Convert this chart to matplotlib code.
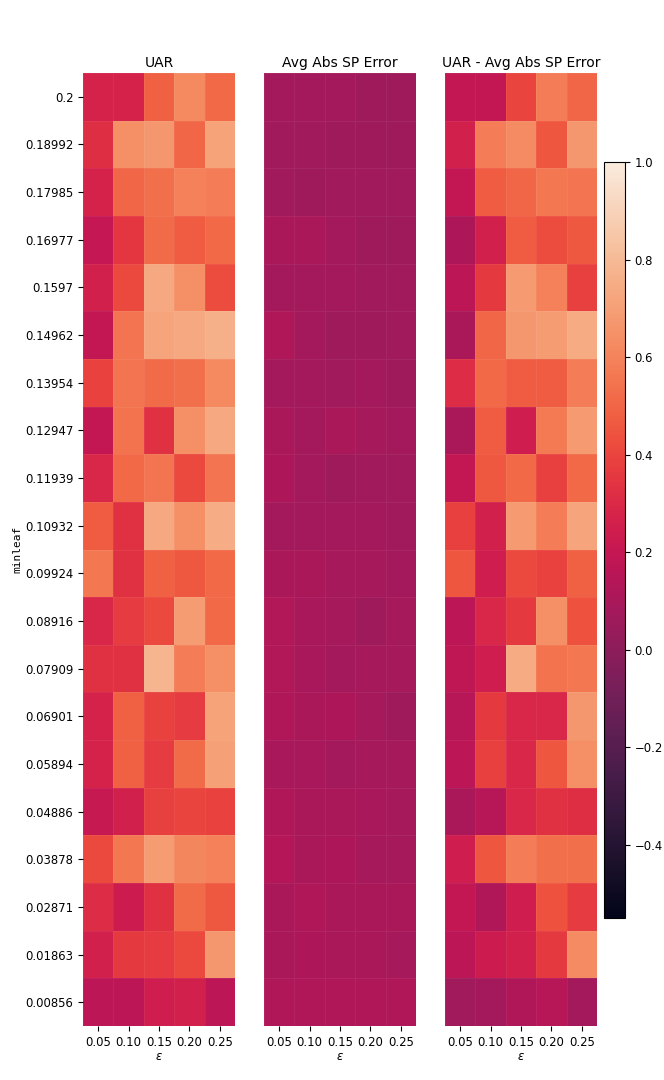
import numpy as np
import matplotlib
matplotlib.use("Agg")
import matplotlib.pyplot as plt
import seaborn as sns

minleaf = ["0.2", "0.18992", "0.17985", "0.16977", "0.1597", "0.14962", "0.13954",
           "0.12947", "0.11939", "0.10932", "0.09924", "0.08916", "0.07909", "0.06901",
           "0.05894", "0.04886", "0.03878", "0.02871", "0.01863", "0.00856"]
epsilon = ["0.05", "0.10", "0.15", "0.20", "0.25"]

uar = [
    [0.27, 0.27, 0.48, 0.62, 0.51],
    [0.32, 0.64, 0.67, 0.50, 0.71],
    [0.27, 0.50, 0.53, 0.59, 0.58],
    [0.20, 0.35, 0.52, 0.47, 0.51],
    [0.26, 0.41, 0.73, 0.64, 0.42],
    [0.19, 0.55, 0.72, 0.73, 0.76],
    [0.39, 0.55, 0.52, 0.53, 0.62],
    [0.19, 0.54, 0.33, 0.64, 0.73],
    [0.29, 0.51, 0.55, 0.41, 0.55],
    [0.47, 0.33, 0.73, 0.64, 0.75],
    [0.56, 0.33, 0.48, 0.46, 0.51],
    [0.29, 0.37, 0.41, 0.69, 0.51],
    [0.33, 0.33, 0.78, 0.58, 0.64],
    [0.27, 0.48, 0.39, 0.37, 0.71],
    [0.27, 0.48, 0.37, 0.52, 0.70],
    [0.21, 0.26, 0.38, 0.40, 0.39],
    [0.41, 0.56, 0.69, 0.61, 0.59],
    [0.31, 0.23, 0.33, 0.52, 0.46],
    [0.26, 0.36, 0.37, 0.41, 0.67],
    [0.17, 0.17, 0.24, 0.26, 0.17],
]

avg_abs_sp_error = [
    [0.080, 0.080, 0.075, 0.065, 0.060],
    [0.070, 0.070, 0.065, 0.065, 0.060],
    [0.070, 0.065, 0.070, 0.070, 0.070],
    [0.100, 0.100, 0.075, 0.065, 0.060],
    [0.085, 0.085, 0.075, 0.070, 0.070],
    [0.120, 0.085, 0.065, 0.065, 0.070],
    [0.085, 0.075, 0.070, 0.075, 0.060],
    [0.105, 0.085, 0.100, 0.090, 0.080],
    [0.110, 0.080, 0.065, 0.070, 0.070],
    [0.080, 0.080, 0.075, 0.075, 0.070],
    [0.105, 0.100, 0.090, 0.090, 0.080],
    [0.130, 0.095, 0.090, 0.065, 0.090],
    [0.130, 0.095, 0.080, 0.090, 0.090],
    [0.120, 0.100, 0.110, 0.090, 0.060],
    [0.095, 0.095, 0.085, 0.090, 0.090],
    [0.120, 0.105, 0.100, 0.095, 0.090],
    [0.140, 0.100, 0.110, 0.090, 0.090],
    [0.100, 0.120, 0.100, 0.100, 0.100],
    [0.100, 0.110, 0.105, 0.100, 0.090],
    [0.120, 0.120, 0.125, 0.120, 0.125],
]

uar_minus_error = [
    [0.19, 0.19, 0.40, 0.58, 0.50],
    [0.26, 0.58, 0.63, 0.45, 0.67],
    [0.19, 0.47, 0.50, 0.56, 0.55],
    [0.11, 0.26, 0.47, 0.42, 0.46],
    [0.17, 0.36, 0.68, 0.59, 0.38],
    [0.10, 0.50, 0.67, 0.69, 0.74],
    [0.31, 0.51, 0.47, 0.47, 0.58],
    [0.10, 0.47, 0.24, 0.57, 0.68],
    [0.19, 0.46, 0.51, 0.38, 0.51],
    [0.38, 0.26, 0.68, 0.58, 0.72],
    [0.45, 0.24, 0.41, 0.39, 0.48],
    [0.17, 0.29, 0.36, 0.64, 0.44],
    [0.18, 0.24, 0.74, 0.54, 0.56],
    [0.15, 0.36, 0.29, 0.29, 0.67],
    [0.17, 0.38, 0.29, 0.45, 0.64],
    [0.10, 0.15, 0.29, 0.33, 0.32],
    [0.24, 0.45, 0.58, 0.53, 0.53],
    [0.19, 0.12, 0.24, 0.44, 0.37],
    [0.17, 0.23, 0.26, 0.36, 0.63],
    [0.07, 0.08, 0.12, 0.15, 0.08],
]

titles = ["UAR", "Avg Abs SP Error", "UAR - Avg Abs SP Error"]
vmin, vmax = -0.55, 1.0

cmap = sns.color_palette("rocket", as_cmap=True)
plt.rcParams["font.family"] = ["DejaVu Sans"]

fig = plt.figure(figsize=(6.64, 10.8), dpi=100)
lefts = [83 / 664, 264 / 664, 445 / 664]
w = 152 / 664
bottom = 1 - 1026 / 1080
h = (1026 - 73) / 1080
fs = 8.4

datasets = [uar, avg_abs_sp_error, uar_minus_error]
mesh = None
for i, (data, title) in enumerate(zip(datasets, titles)):
    ax = fig.add_axes([lefts[i], bottom, w, h])
    arr = np.array(data)
    mesh = ax.pcolormesh(arr, cmap=cmap, vmin=vmin, vmax=vmax,
                         edgecolors=(1, 1, 1, 0.06), linewidth=0.4)
    ax.set_xlim(0, arr.shape[1])
    ax.set_ylim(arr.shape[0], 0)
    for s in ax.spines.values():
        s.set_visible(False)
    ax.set_xticks(np.arange(len(epsilon)) + 0.5)
    ax.set_xticklabels(epsilon, fontsize=fs)
    ax.set_xlabel(r"$\epsilon$", fontsize=fs, labelpad=1)
    ax.set_title(title, fontsize=10, pad=4)
    if i == 0:
        ax.set_yticks(np.arange(len(minleaf)) + 0.5)
        ax.set_yticklabels(minleaf, fontsize=fs)
        ax.set_ylabel("minleaf", fontsize=8, family="DejaVu Sans Mono", labelpad=2)
    else:
        ax.set_yticks([])

cax = fig.add_axes([604 / 664, 1 - 918 / 1080, 21 / 664, (918 - 162) / 1080])
cb = fig.colorbar(mesh, cax=cax)
cb.set_ticks([-0.4, -0.2, 0.0, 0.2, 0.4, 0.6, 0.8, 1.0])
cb.ax.tick_params(labelsize=fs)
cb.outline.set_linewidth(0.8)

fig.savefig("out.png", dpi=100)
